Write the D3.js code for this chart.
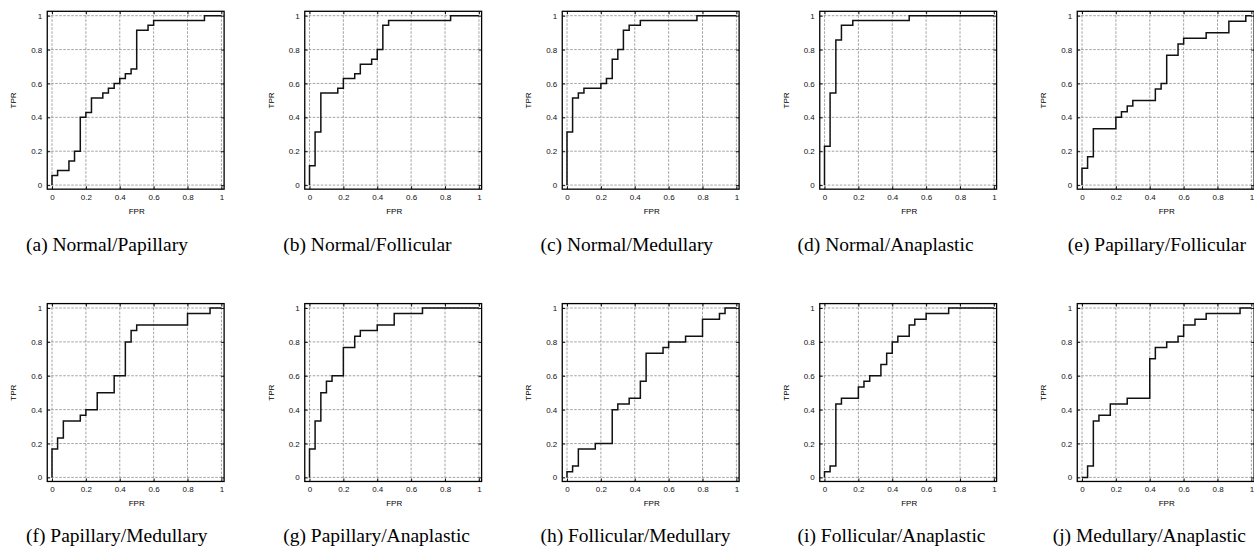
<!DOCTYPE html>
<html>
<head>
<meta charset="utf-8">
<script src="https://cdn.jsdelivr.net/npm/d3@7"></script>
<style>
  body { margin: 0; background: #fff; }
  .tick text { font-family: "Liberation Sans", Arial, sans-serif; font-size: 8px; fill: #111; }
</style>
</head>
<body>
<div id="chart"></div>
<script>
// ROC curves, 10 pairwise comparisons (step curves)
const captions = [
  "(a) Normal/Papillary", "(b) Normal/Follicular", "(c) Normal/Medullary",
  "(d) Normal/Anaplastic", "(e) Papillary/Follicular", "(f) Papillary/Medullary",
  "(g) Papillary/Anaplastic", "(h) Follicular/Medullary", "(i) Follicular/Anaplastic",
  "(j) Medullary/Anaplastic"
];
const tickValues = [0, 0.2, 0.4, 0.6, 0.8, 1];

// each pair: FPR where the curve steps up, TPR it steps up to
const fprA = [0, 0.033, 0.1, 0.133, 0.167, 0.2, 0.233, 0.3, 0.333, 0.367, 0.4, 0.433, 0.467, 0.5, 0.567, 0.6, 0.9];
const tprA = [0.057, 0.086, 0.143, 0.2, 0.4, 0.429, 0.514, 0.543, 0.571, 0.6, 0.629, 0.657, 0.686, 0.914, 0.943, 0.971, 1];
const fprB = [0, 0.033, 0.067, 0.167, 0.2, 0.267, 0.3, 0.367, 0.4, 0.433, 0.467, 0.833];
const tprB = [0.114, 0.314, 0.543, 0.571, 0.629, 0.657, 0.714, 0.743, 0.8, 0.943, 0.971, 1];
const fprC = [0, 0.033, 0.067, 0.1, 0.2, 0.233, 0.267, 0.3, 0.333, 0.367, 0.433, 0.767];
const tprC = [0.314, 0.514, 0.543, 0.571, 0.6, 0.629, 0.743, 0.8, 0.914, 0.943, 0.971, 1];
const fprD = [0, 0.033, 0.067, 0.1, 0.167, 0.5];
const tprD = [0.229, 0.543, 0.857, 0.943, 0.971, 1];
const fprE = [0, 0.033, 0.067, 0.2, 0.233, 0.267, 0.3, 0.433, 0.467, 0.5, 0.567, 0.6, 0.733, 0.867, 0.967];
const tprE = [0.1, 0.167, 0.333, 0.4, 0.433, 0.467, 0.5, 0.567, 0.6, 0.767, 0.833, 0.867, 0.9, 0.967, 1];
const fprF = [0, 0.033, 0.067, 0.167, 0.2, 0.267, 0.367, 0.433, 0.467, 0.5, 0.8, 0.933];
const tprF = [0.167, 0.233, 0.333, 0.367, 0.4, 0.5, 0.6, 0.8, 0.867, 0.9, 0.967, 1];
const fprG = [0, 0.033, 0.067, 0.1, 0.133, 0.2, 0.267, 0.3, 0.4, 0.5, 0.667];
const tprG = [0.167, 0.333, 0.5, 0.567, 0.6, 0.767, 0.833, 0.867, 0.9, 0.967, 1];
const fprH = [0, 0.033, 0.067, 0.167, 0.267, 0.3, 0.367, 0.433, 0.467, 0.567, 0.6, 0.7, 0.8, 0.9, 0.933];
const tprH = [0.033, 0.067, 0.167, 0.2, 0.4, 0.433, 0.467, 0.567, 0.733, 0.767, 0.8, 0.833, 0.933, 0.967, 1];
const fprI = [0, 0.033, 0.067, 0.1, 0.2, 0.233, 0.267, 0.333, 0.367, 0.4, 0.433, 0.5, 0.533, 0.6, 0.733];
const tprI = [0.033, 0.067, 0.433, 0.467, 0.533, 0.567, 0.6, 0.667, 0.733, 0.8, 0.833, 0.9, 0.933, 0.967, 1];
const fprJ = [0.033, 0.067, 0.1, 0.167, 0.267, 0.4, 0.433, 0.5, 0.567, 0.6, 0.667, 0.733, 0.933];
const tprJ = [0.067, 0.333, 0.367, 0.433, 0.467, 0.7, 0.767, 0.8, 0.833, 0.9, 0.933, 0.967, 1];

const fprs = [fprA, fprB, fprC, fprD, fprE, fprF, fprG, fprH, fprI, fprJ];
const tprs = [tprA, tprB, tprC, tprD, tprE, tprF, tprG, tprH, tprI, tprJ];

const W = 1254, H = 548;
const S = 169.4;               // plot side, px per unit
const colX = 52, colStep = 257.5;
const rowY = [15.7, 308];
const padLo = -0.028, padHi = 1.016; // frame extends a bit past [0,1]

const svg = d3.select("#chart").append("svg").attr("width", W).attr("height", H);

captions.forEach((cap, i) => {
  const col = i % 5, row = Math.floor(i / 5);
  const x0 = colX + col * colStep, yTop = rowY[row];
  const x = d3.scaleLinear().domain([0, 1]).range([x0, x0 + S]);
  const y = d3.scaleLinear().domain([0, 1]).range([yTop + S, yTop]);
  const g = svg.append("g");

  const fl = x(padLo), fr = x(padHi), ft = y(padHi + 0.01), fb = y(padLo + 0.004);

  // dashed grid
  g.selectAll(".gx").data(tickValues).join("line")
    .attr("x1", d => x(d)).attr("x2", d => x(d))
    .attr("y1", ft).attr("y2", fb)
    .attr("stroke", "#8a8a8a").attr("stroke-width", 0.8)
    .attr("stroke-dasharray", "2.5,1.5");
  g.selectAll(".gy").data(tickValues).join("line")
    .attr("x1", fl).attr("x2", fr)
    .attr("y1", d => y(d)).attr("y2", d => y(d))
    .attr("stroke", "#8a8a8a").attr("stroke-width", 0.8)
    .attr("stroke-dasharray", "2.5,1.5");

  // axes (ticks point inward, mirrored on top/right)
  const fmt = d3.format("~g");
  const ax = g.append("g").attr("transform", `translate(0,${fb})`)
    .call(d3.axisBottom(x).tickValues(tickValues).tickFormat(fmt).tickSize(-3).tickPadding(5));
  const ay = g.append("g").attr("transform", `translate(${fl},0)`)
    .call(d3.axisLeft(y).tickValues(tickValues).tickFormat(fmt).tickSize(-3).tickPadding(5));
  const at = g.append("g").attr("transform", `translate(0,${ft})`)
    .call(d3.axisTop(x).tickValues(tickValues).tickFormat("").tickSize(-3));
  const ar = g.append("g").attr("transform", `translate(${fr},0)`)
    .call(d3.axisRight(y).tickValues(tickValues).tickFormat("").tickSize(-3));
  [ax, ay, at, ar].forEach(a => {
    a.select(".domain").remove();
    a.selectAll(".tick line").attr("stroke", "#000").attr("stroke-width", 0.9);
  });

  // frame
  g.append("rect")
    .attr("x", fl).attr("y", ft).attr("width", fr - fl).attr("height", fb - ft)
    .attr("fill", "none").attr("stroke", "#000").attr("stroke-width", 1.3);

  // ROC step curve
  const pts = [[0, 0]].concat(fprs[i].map((f, k) => [f, tprs[i][k]]), [[1, 1]]);
  g.append("path")
    .datum(pts)
    .attr("fill", "none").attr("stroke", "#111").attr("stroke-width", 1.5)
    .attr("d", d3.line().x(d => x(d[0])).y(d => y(d[1])).curve(d3.curveStepAfter));

  // axis titles
  g.append("text")
    .attr("x", x(0.5)).attr("y", fb + 25)
    .attr("text-anchor", "middle")
    .style("font-family", "Liberation Sans, Arial, sans-serif").style("font-size", "8px")
    .text("FPR");
  g.append("text")
    .attr("transform", `translate(${x0 - 36},${y(0.5)}) rotate(-90)`)
    .attr("text-anchor", "middle")
    .style("font-family", "Liberation Sans, Arial, sans-serif").style("font-size", "8px")
    .text("TPR");

  // caption: left-aligned, last column pushed against the right edge
  const last = col === 4;
  g.append("text")
    .attr("x", last ? 1246 : 26 + col * 257.2).attr("y", row ? 542 : 251)
    .attr("text-anchor", last ? "end" : "start")
    .style("font-family", "Liberation Serif, Times New Roman, serif").style("font-size", "19.5px")
    .text(cap);
});
</script>
</body>
</html>
